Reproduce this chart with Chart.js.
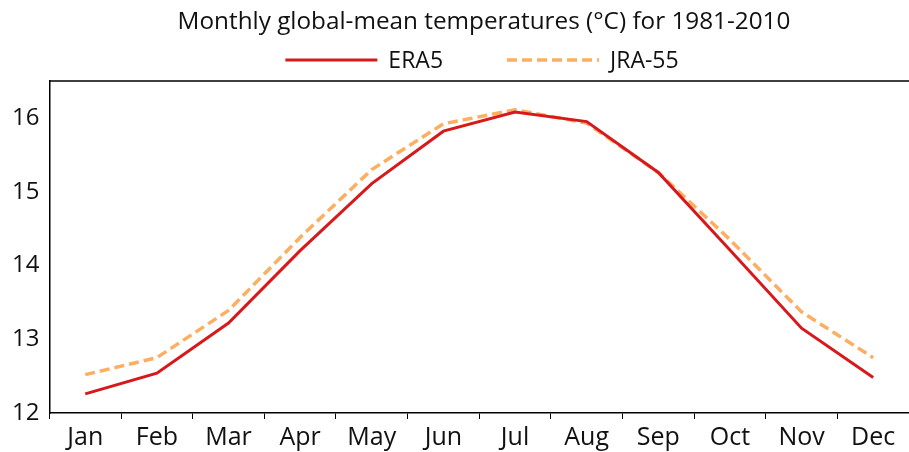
<!DOCTYPE html>
<html>
<head>
<meta charset="utf-8">
<script src="https://cdn.jsdelivr.net/npm/chart.js@4"></script>
<style>
  html, body { margin: 0; padding: 0; background: #fff; }
  #wrap { width: 909px; height: 452px; }
</style>
</head>
<body>
<div id="wrap"><canvas id="chart"></canvas></div>
<script>
const months = ['Jan', 'Feb', 'Mar', 'Apr', 'May', 'Jun', 'Jul', 'Aug', 'Sep', 'Oct', 'Nov', 'Dec'];
const era5 = [12.26, 12.54, 13.22, 14.2, 15.11, 15.82, 16.08, 15.95, 15.26, 14.21, 13.15, 12.48];
const jra55 = [12.52, 12.75, 13.39, 14.38, 15.3, 15.92, 16.11, 15.93, 15.26, 14.35, 13.37, 12.75];
const titleText = 'Monthly global-mean temperatures (°C) for 1981-2010';

const font = "'Open Sans', 'Noto Sans', sans-serif";

// title, legend and top border drawn by hand
const header = {
  id: 'header',
  afterDraw(c) {
    const a = c.chartArea;
    const ctx = c.ctx;
    ctx.save();
    ctx.strokeStyle = '#000';
    ctx.lineWidth = 1.5;
    ctx.beginPath();
    ctx.moveTo(a.left, a.top);
    ctx.lineTo(c.width, a.top);
    ctx.stroke();

    const cx = 484;
    ctx.fillStyle = '#111';
    ctx.textBaseline = 'middle';
    ctx.textAlign = 'center';
    ctx.font = '24.3px ' + font;
    ctx.fillText(titleText, cx, 22);

    // legend
    ctx.font = '23px ' + font;
    ctx.textAlign = 'left';
    const lineW = 92, gap = 11, between = 64;
    const items = c.data.datasets.map(ds => ({ ds, w: ctx.measureText(ds.label).width }));
    let total = 0;
    items.forEach((it, i) => { total += lineW + gap + it.w + (i ? between : 0); });
    let x = cx - total / 2 - 2;
    const y = 60;
    items.forEach((it, i) => {
      if (i) x += between;
      ctx.save();
      ctx.strokeStyle = it.ds.borderColor;
      ctx.lineWidth = it.ds.borderWidth;
      ctx.setLineDash(it.ds.borderDash || []);
      ctx.beginPath();
      ctx.moveTo(x, y);
      ctx.lineTo(x + lineW, y);
      ctx.stroke();
      ctx.restore();
      x += lineW + gap;
      ctx.fillText(it.ds.label, x, y + 1);
      x += it.w;
    });
    ctx.restore();
  }
};

new Chart(document.getElementById('chart').getContext('2d'), {
  type: 'line',
  data: {
    labels: months,
    datasets: [
      {
        label: 'ERA5',
        data: era5,
        borderColor: '#d7191c',
        borderWidth: 3,
        pointRadius: 0,
        tension: 0,
        fill: false
      },
      {
        label: 'JRA-55',
        data: jra55,
        borderColor: '#fdae61',
        borderWidth: 3.5,
        borderDash: [10, 5],
        pointRadius: 0,
        tension: 0,
        fill: false
      }
    ]
  },
  options: {
    responsive: true,
    maintainAspectRatio: false,
    animation: false,
    layout: { padding: { left: 2, right: -7, top: 81, bottom: -5 } },
    plugins: {
      title: { display: false },
      legend: { display: false },
      tooltip: { enabled: false }
    },
    scales: {
      x: {
        offset: true,
        grid: {
          display: true,
          drawOnChartArea: false,
          drawTicks: true,
          offset: true,
          tickLength: 6,
          color: '#000'
        },
        border: { display: true, color: '#000', width: 1.5 },
        ticks: {
          color: '#111',
          font: { family: font, size: 25 },
          padding: 4,
          maxRotation: 0
        }
      },
      y: {
        min: 12,
        max: 16.5,
        grid: { display: false, drawTicks: false },
        border: { display: true, color: '#000', width: 1.5 },
        ticks: {
          stepSize: 1,
          includeBounds: false,
          color: '#111',
          font: { family: font, size: 24 },
          padding: 10
        }
      }
    }
  },
  plugins: [header]
});
</script>
</body>
</html>
